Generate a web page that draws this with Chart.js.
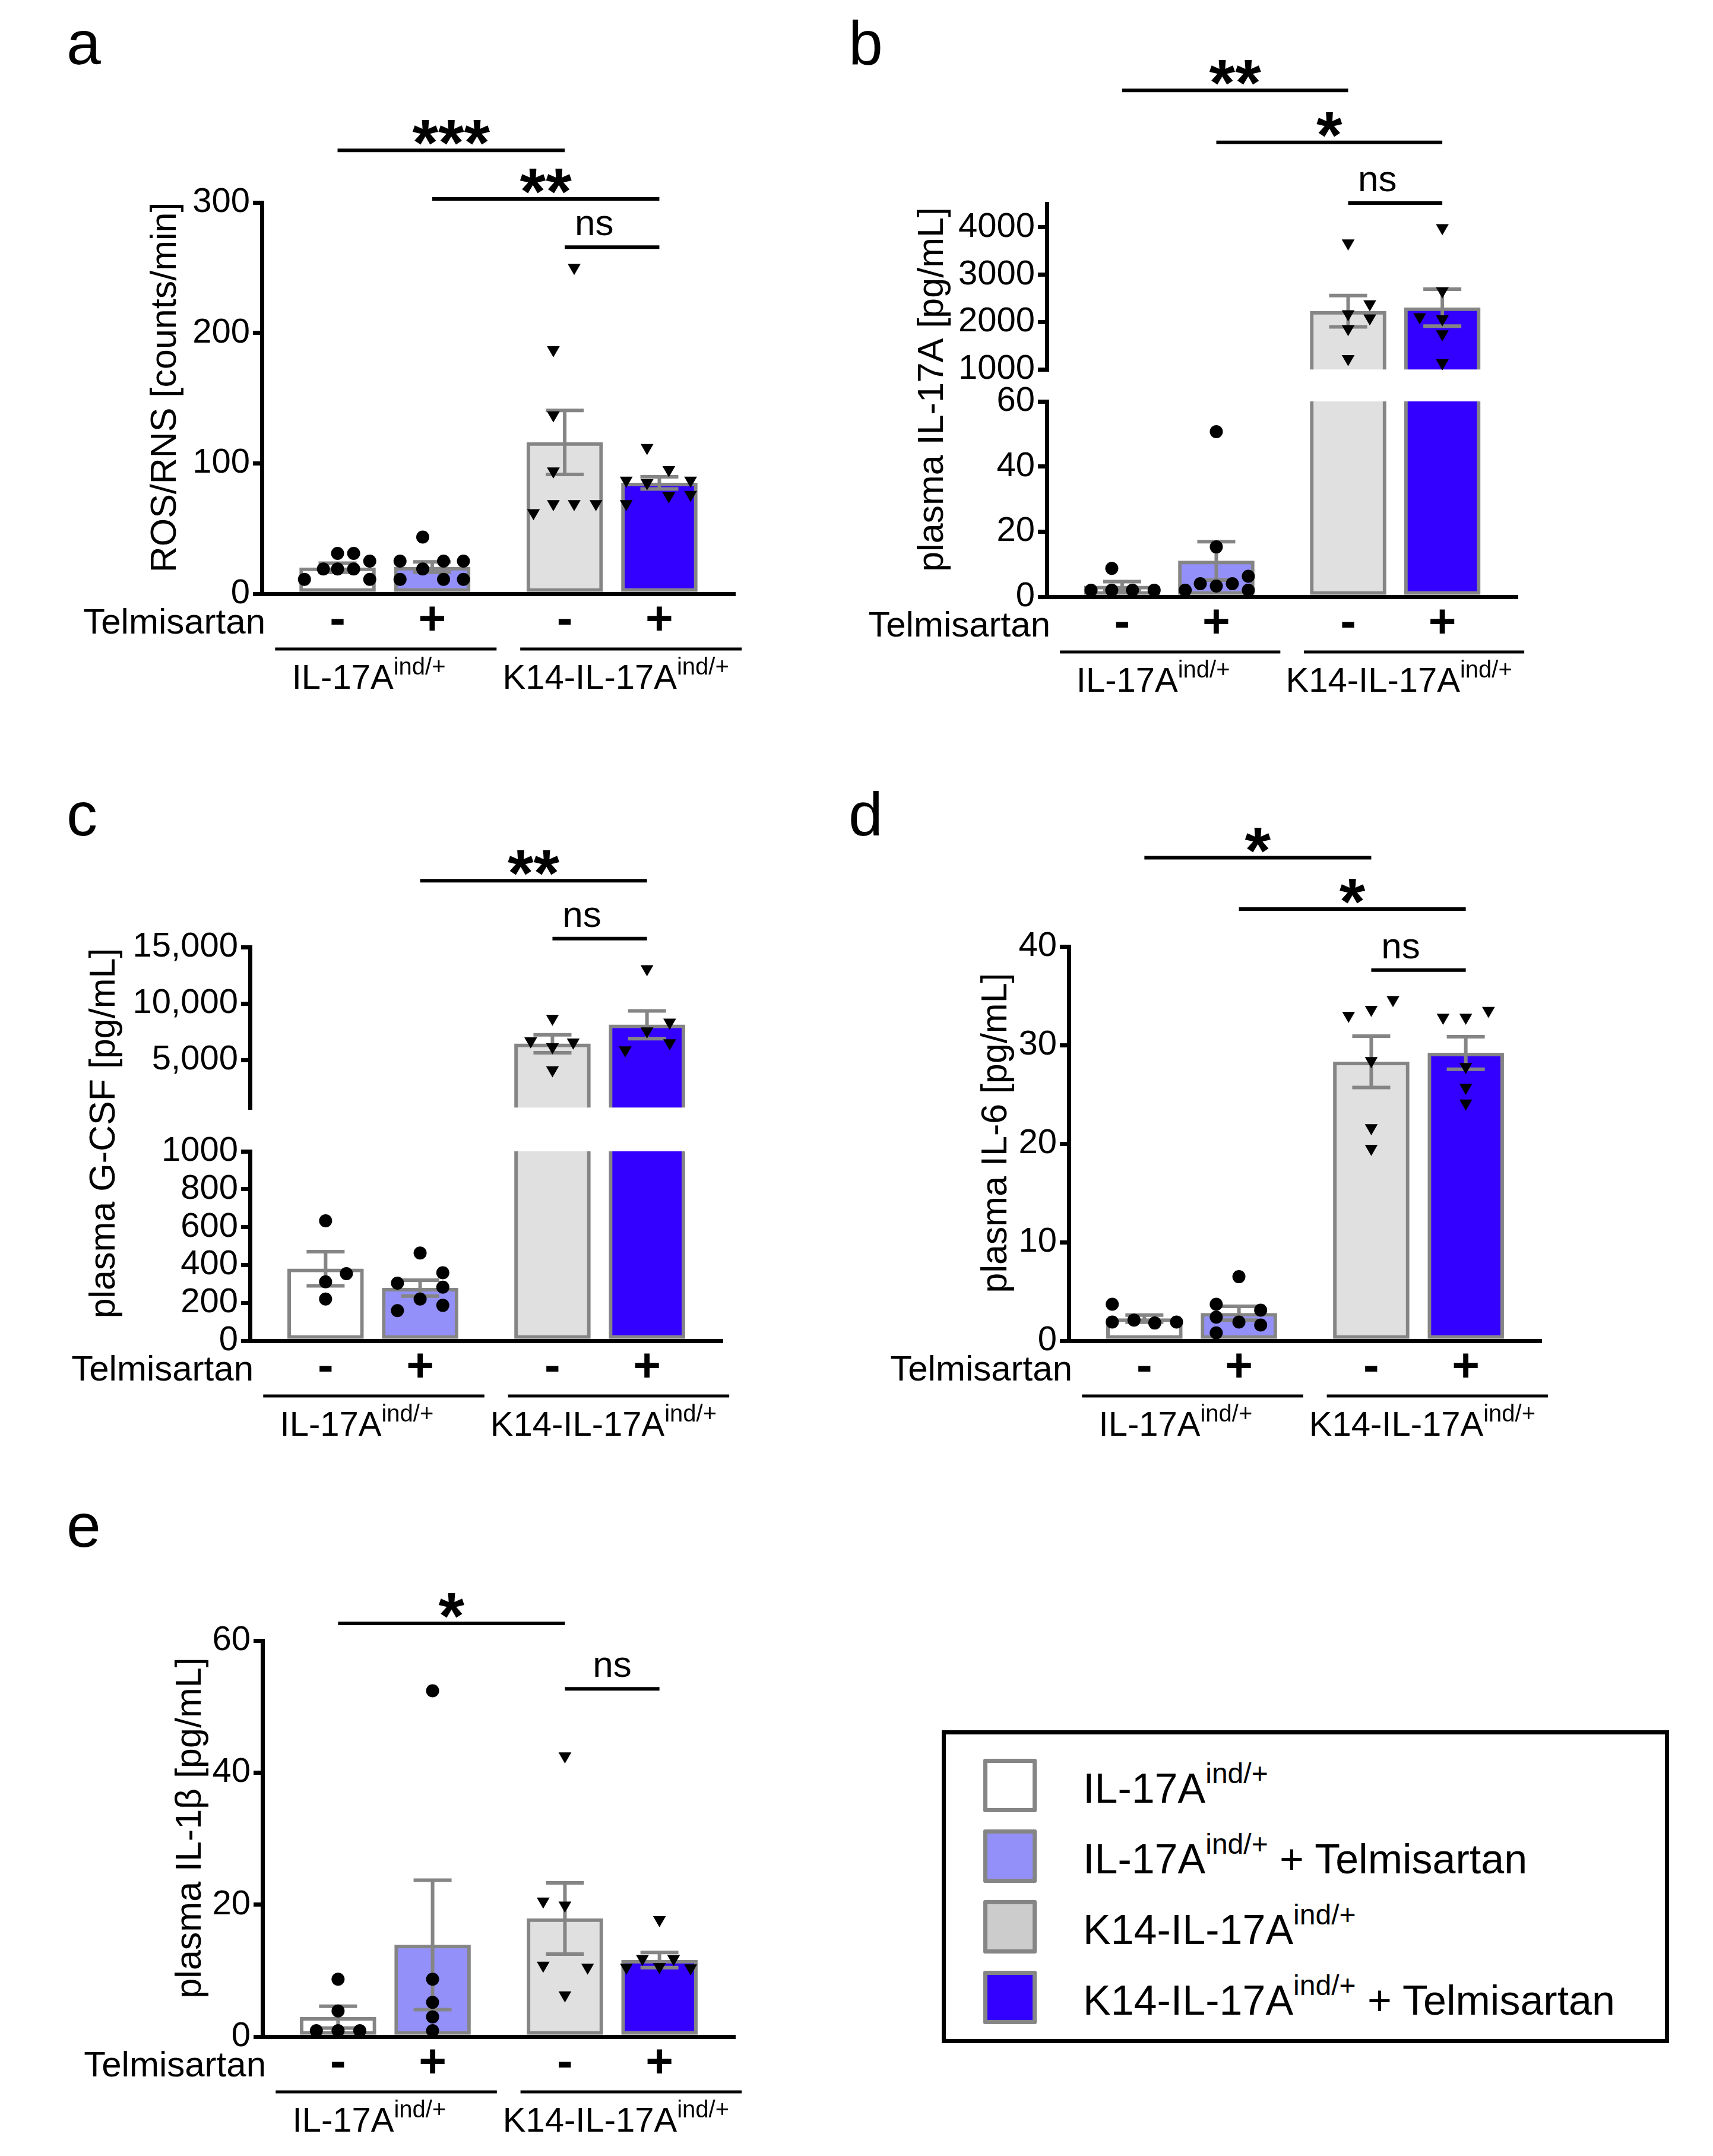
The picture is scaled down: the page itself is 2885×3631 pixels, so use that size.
<!DOCTYPE html>
<html>
<head>
<meta charset="utf-8">
<script src="https://cdn.jsdelivr.net/npm/chart.js@4.4.0/dist/chart.umd.min.js"></script>
<style>
  body { margin: 0; width: 2885px; height: 3631px; position: relative; overflow: hidden; background: #fff;
         font-family: "Liberation Sans", Arial, sans-serif; color: #000; }
  canvas { position: absolute; }
  .letter { position: absolute; font-size: 104px; line-height: 104px; }
  #legend { position: absolute; left: 1586px; top: 2914px; width: 1225px; height: 527px;
            border: 7px solid #000; box-sizing: border-box; }
  #legend .sw { position: absolute; left: 63px; width: 90px; height: 90px; box-sizing: border-box;
                border: 7px solid #858585; border-radius: 3px; }
  #legend .tx { position: absolute; left: 231px; font-size: 70px; line-height: 70px; white-space: nowrap; }
  #legend .tx span { font-size: 48px; position: relative; top: -33px; }
</style>
</head>
<body>
<div class="letter" style="left:112px;top:20px">a</div>
<div class="letter" style="left:1429px;top:20px">b</div>
<div class="letter" style="left:112px;top:1319px">c</div>
<div class="letter" style="left:1429px;top:1319px">d</div>
<div class="letter" style="left:112px;top:2517px">e</div>
<div id="legend"></div>

<script>
// ---- data ----
const signs = ['-', '+', '-', '+'];
const genotypes = ['IL-17A', 'K14-IL-17A'];
const genoSup = 'ind/+';
const legendMain = ['IL-17A', 'IL-17A', 'K14-IL-17A', 'K14-IL-17A'];
const legendTail = ['', ' + Telmisartan', '', ' + Telmisartan'];

// a: ROS/RNS
const rosTitle = 'ROS/RNS [counts/min]';
const rosTicks = [0, 100, 200, 300];
const rosMean = [20, 20.5, 116, 85];
const rosSem = [3.5, 4, 24.5, 4.7];
const rosPts = [
  [11, 19, 19, 31, 31, 19, 25, 11],
  [11, 25, 19, 43.5, 25, 11, 25, 11],
  [250, 187, 137, 94, 69, 62, 69, 69],
  [112, 87, 69, 85, 95, 75, 87, 76]
];
const rosJit = [
  [-0.35, -0.15, 0, 0, 0.17, 0.17, 0.34, 0.34],
  [-0.34, -0.34, -0.1, -0.1, 0.12, 0.12, 0.33, 0.33],
  [0.1, -0.12, -0.12, -0.12, -0.12, -0.33, 0.1, 0.33],
  [-0.13, -0.35, -0.35, -0.13, 0.1, 0.1, 0.33, 0.33]
];
const rosSig = [[0, 2, '***', 340, 0], [1, 3, '**', 302.7, 0], [2, 3, 'ns', 265.8, -30]];

// b: IL-17A (broken axis)
const il17Title = 'plasma IL-17A [pg/mL]';
const il17LowTicks = [0, 20, 40, 60];
const il17HighTicks = [1000, 2000, 3000, 4000];
const il17Mean = [3.3, 11, 2230, 2305];
const il17Sem = [1.35, 5.9, 330, 390];
const il17Pts = [
  [2, 8.7, 2, 2, 2],
  [50.7, 15.3, 2, 4, 3.3, 4, 6.3, 2],
  [3665, 2382, 2171, 2083, 1859, 1224],
  [3989, 2108, 2656, 2065, 1747, 1137]
];
const il17Jit = [
  [-0.33, -0.11, -0.11, 0.11, 0.34],
  [0, 0, -0.33, -0.17, 0, 0.17, 0.34, 0.34],
  [0, 0.23, 0, 0.23, 0, 0],
  [0, -0.24, 0, 0, 0, 0]
];
const il17Sig = [[0, 2, '**', 6891, 0], [1, 3, '*', 5795, 0], [2, 3, 'ns', 4512, -30]];

// c: G-CSF (broken axis)
const gcsfTitle = 'plasma G-CSF [pg/mL]';
const gcsfLowTicks = [0, 200, 400, 600, 800, 1000];
const gcsfHighTicks = [5000, 10000, 15000];
const gcsfHighLabels = ['5,000', '10,000', '15,000'];
const gcsfMean = [380, 278, 6440, 8120];
const gcsfSem = [90, 42, 790, 1230];
const gcsfPts = [
  [633, 354, 311, 220],
  [463, 359, 304, 283, 220, 159, 187],
  [8684, 6684, 6579, 6158, 4123],
  [13070, 8333, 7561, 6509, 5877]
];
const gcsfJit = [
  [0, 0.22, 0, 0],
  [0, 0.24, -0.24, 0.24, 0, -0.24, 0.24],
  [0, -0.23, 0.22, 0, 0],
  [0, 0.24, 0, 0.24, -0.23]
];
const gcsfSig = [[1, 3, '**', 20879, 0], [2, 3, 'ns', 15747, -30]];

// d: IL-6
const il6Title = 'plasma IL-6 [pg/mL]';
const il6Ticks = [0, 10, 20, 30, 40];
const il6Mean = [2.25, 2.8, 28.3, 29.2];
const il6Sem = [0.36, 0.7, 2.6, 1.65];
const il6Pts = [
  [3.7, 1.9, 2.1, 1.8, 1.9],
  [6.5, 3.7, 3.1, 2.4, 1.9, 1.6, 0.8],
  [33, 33.6, 34.6, 28.4, 21.6, 19.5],
  [32.8, 32.8, 33.5, 27.8, 25.7, 24.1]
];
const il6Jit = [
  [-0.34, -0.34, -0.11, 0.11, 0.34],
  [0, -0.24, 0.23, -0.24, 0, 0.23, -0.24],
  [-0.24, 0, 0.23, 0, 0, 0],
  [-0.24, 0, 0.24, 0, 0, 0]
];
const il6Sig = [[0, 2, '*', 49.0, 0], [1, 3, '*', 43.8, 0], [2, 3, 'ns', 37.6, -30]];

// e: IL-1beta
const il1bTitle = 'plasma IL-1\u03B2 [pg/mL]';
const il1bTicks = [0, 20, 40, 60];
const il1bMean = [2.95, 13.9, 17.9, 11.6];
const il1bSem = [1.65, 9.8, 5.4, 1.15];
const il1bPts = [
  [8.7, 3.9, 0.9, 0.9, 0.9],
  [52.4, 8.7, 5.2, 3.0, 0.9],
  [42.5, 20.5, 19.9, 10.8, 10.5, 6.3],
  [17.7, 11.8, 11.8, 10.5, 10.6, 10.4]
];
const il1bJit = [
  [0, 0, -0.23, 0, 0.23],
  [0, 0, 0, 0, 0],
  [0, -0.23, 0, -0.23, 0.24, 0],
  [0, -0.18, 0.15, -0.35, 0, 0.33]
];
const il1bSig = [[0, 2, '*', 62.6, 0], [2, 3, 'ns', 52.7, 0]];

// ---- layout / style ----
const XPOS = [0, 1, 2.4, 3.4];
const X_MIN = -0.8, X_MAX = 4.2;
const SPANS = [[-0.66, 1.68], [1.93, 4.27]];
const LABEL_X = [0.33, 2.94];
const FILLS = ['#FFFFFF', '#9490FA', '#E0E0E0', '#3300FF'];
const LEGEND_FILLS = ['#FFFFFF', '#9490FA', '#CCCCCC', '#3300FF'];
const EDGE = '#858585';
const FONT = '"Liberation Sans", Arial, sans-serif';

Chart.defaults.font.family = FONT;

function supLabel(ctx, main, sup, cx, base) {
  ctx.font = '58px ' + FONT;
  const wm = ctx.measureText(main).width;
  ctx.font = '40px ' + FONT;
  const ws = ctx.measureText(sup).width;
  const start = cx - (wm + ws) / 2;
  ctx.textAlign = 'left';
  ctx.textBaseline = 'alphabetic';
  ctx.font = '58px ' + FONT;
  ctx.fillText(main, start, base);
  ctx.font = '40px ' + FONT;
  ctx.fillText(sup, start + wm, base - 24);
}

function deco(o) {
  return {
    id: 'deco',
    afterDatasetDraw(chart, args) {
      if (args.index !== 0) return;
      const {ctx, chartArea: ca, scales: {x, y}} = chart;
      ctx.save();
      ctx.beginPath();
      ctx.rect(ca.left, ca.top - 1, ca.right - ca.left, ca.bottom - ca.top + 2);
      ctx.clip();
      ctx.strokeStyle = EDGE;
      ctx.lineWidth = 6;
      o.mean.forEach((m, i) => {
        const px = x.getPixelForValue(XPOS[i]);
        const hi = y.getPixelForValue(m + o.sem[i]);
        const lo = y.getPixelForValue(m - o.sem[i]);
        ctx.beginPath();
        ctx.moveTo(px, hi); ctx.lineTo(px, lo);
        ctx.moveTo(px - 32, hi); ctx.lineTo(px + 32, hi);
        ctx.moveTo(px - 32, lo); ctx.lineTo(px + 32, lo);
        ctx.stroke();
      });
      ctx.restore();
    },
    afterDraw(chart) {
      const {ctx, chartArea: ca, scales: {x, y}} = chart;
      ctx.save();
      ctx.fillStyle = '#000';
      ctx.strokeStyle = '#000';
      (o.sig || []).forEach(([a, b, txt, v, dx]) => {
        const x1 = x.getPixelForValue(XPOS[a]);
        const x2 = x.getPixelForValue(XPOS[b]);
        const py = y.getPixelForValue(v);
        ctx.lineWidth = 6;
        ctx.beginPath(); ctx.moveTo(x1, py); ctx.lineTo(x2, py); ctx.stroke();
        ctx.textAlign = 'center';
        ctx.textBaseline = 'alphabetic';
        if (txt === 'ns') {
          ctx.font = '62px ' + FONT;
          ctx.fillText(txt, (x1 + x2) / 2 + dx, py - 20);
        } else {
          ctx.font = 'bold 112px ' + FONT;
          ctx.fillText(txt, (x1 + x2) / 2 + dx, py + 26);
        }
      });
      if (o.title) {
        const top = o.axisTop !== undefined ? o.axisTop : ca.top;
        ctx.save();
        ctx.translate(ca.left - o.titleDx, (top + ca.bottom) / 2 - 18);
        ctx.rotate(-Math.PI / 2);
        ctx.font = '61px ' + FONT;
        ctx.textAlign = 'center';
        ctx.textBaseline = 'middle';
        ctx.fillText(o.title, 0, 0);
        ctx.restore();
      }
      if (o.bottom) {
        const yb = ca.bottom;
        ctx.font = '60px ' + FONT;
        ctx.textAlign = 'right';
        ctx.textBaseline = 'middle';
        ctx.fillText('Telmisartan', ca.left + 6, yb + 50);
        ctx.font = 'bold 80px ' + FONT;
        ctx.textAlign = 'center';
        signs.forEach((s, i) => ctx.fillText(s, x.getPixelForValue(XPOS[i]), yb + 46));
        ctx.lineWidth = 5;
        SPANS.forEach(([u1, u2]) => {
          ctx.beginPath();
          ctx.moveTo(x.getPixelForValue(u1), yb + 93);
          ctx.lineTo(x.getPixelForValue(u2), yb + 93);
          ctx.stroke();
        });
        genotypes.forEach((g, k) => supLabel(ctx, g, genoSup, x.getPixelForValue(LABEL_X[k]), yb + 160));
      }
      ctx.restore();
    }
  };
}

function makeChart(o) {
  const [l, t, r, b] = o.area;
  const [x0, y0, x1, y1] = o.canvas;
  const cv = document.createElement('canvas');
  cv.width = x1 - x0;
  cv.height = y1 - y0;
  cv.style.left = x0 + 'px';
  cv.style.top = y0 + 'px';
  document.body.appendChild(cv);

  const datasets = [{
    type: 'bar',
    data: o.mean.map((m, i) => ({x: XPOS[i], y: m})),
    backgroundColor: FILLS,
    borderColor: EDGE,
    borderWidth: 6,
    borderSkipped: false,
    barThickness: 128,
    order: 2
  }];
  o.pts.forEach((vals, g) => {
    const tri = g > 1;
    // a segment of a broken axis only shows the points that fall in its range
    const pts = vals.map((v, k) => ({x: XPOS[g] + o.jit[g][k], y: v}))
                    .filter(p => p.y >= o.min && p.y <= o.max);
    datasets.push({
      type: 'scatter',
      data: pts,
      pointStyle: tri ? 'triangle' : 'circle',
      pointRotation: tri ? 180 : 0,
      pointRadius: tri ? 12.5 : 11,
      pointHoverRadius: tri ? 12.5 : 11,
      pointBackgroundColor: '#000',
      pointBorderWidth: 0,
      clip: 14,
      order: 1
    });
  });

  const labels = o.tickLabels || o.ticks.map(String);
  const leftW = l - x0;
  new Chart(cv, {
    type: 'bar',
    data: {datasets},
    options: {
      responsive: false,
      animation: false,
      devicePixelRatio: 1,
      layout: {padding: {left: 0, top: t - y0, right: x1 - r, bottom: y1 - b}},
      plugins: {legend: {display: false}, tooltip: {enabled: false}},
      scales: {
        x: {
          type: 'linear', min: X_MIN, max: X_MAX, offset: false,
          display: o.bottom ? true : false,
          afterFit: s => { s.height = 0; },
          ticks: {display: false},
          grid: {display: false},
          border: {display: true, width: 7, color: '#000'}
        },
        y: {
          type: 'linear', min: o.min, max: o.max,
          afterFit: s => { s.width = leftW; },
          afterBuildTicks: s => { s.ticks = o.ticks.map(v => ({value: v})); },
          ticks: {
            autoSkip: false, color: '#000', padding: 5,
            font: {family: FONT, size: 58},
            callback: (v, i) => labels[i]
          },
          grid: {display: true, drawOnChartArea: false, drawTicks: true, tickLength: 15,
                 tickWidth: 7, tickColor: '#000', color: '#000', lineWidth: 7},
          border: {display: true, width: 7, color: '#000'}
        }
      }
    },
    plugins: [deco(o)]
  });
}

// a
makeChart({area: [441, 341, 1238, 1000], canvas: [100, 170, 1270, 1200], min: 0, max: 300,
  ticks: rosTicks, mean: rosMean, sem: rosSem, pts: rosPts, jit: rosJit, sig: rosSig,
  title: rosTitle, titleDx: 162, bottom: true});

// b lower + upper
makeChart({area: [1763, 676, 2556, 1005], canvas: [1420, 300, 2600, 1210], min: 0, max: 60,
  ticks: il17LowTicks, mean: il17Mean, sem: il17Sem, pts: il17Pts, jit: il17Jit,
  title: il17Title, titleDx: 192, axisTop: 343 - 300, bottom: true});
makeChart({area: [1763, 343, 2556, 624], canvas: [1420, 60, 2600, 662], min: 1000, max: 4500,
  ticks: il17HighTicks, mean: il17Mean, sem: il17Sem, pts: il17Pts, jit: il17Jit, sig: il17Sig});

// c lower + upper
makeChart({area: [421, 1939, 1217, 2258], canvas: [90, 1560, 1260, 2460], min: 0, max: 1000,
  ticks: gcsfLowTicks, mean: gcsfMean, sem: gcsfSem, pts: gcsfPts, jit: gcsfJit,
  title: gcsfTitle, titleDx: 245, axisTop: 1595 - 1560, bottom: true});
makeChart({area: [421, 1595, 1217, 1880], canvas: [90, 1400, 1260, 1905], min: 800, max: 15000,
  ticks: gcsfHighTicks, tickLabels: gcsfHighLabels, mean: gcsfMean, sem: gcsfSem,
  pts: gcsfPts, jit: gcsfJit, sig: gcsfSig});

// d
makeChart({area: [1800, 1594, 2596, 2258], canvas: [1450, 1360, 2640, 2460], min: 0, max: 40,
  ticks: il6Ticks, mean: il6Mean, sem: il6Sem, pts: il6Pts, jit: il6Jit, sig: il6Sig,
  title: il6Title, titleDx: 122, bottom: true});

// e
makeChart({area: [442, 2763, 1238, 3430], canvas: [100, 2640, 1270, 3631], min: 0, max: 60,
  ticks: il1bTicks, mean: il1bMean, sem: il1bSem, pts: il1bPts, jit: il1bJit, sig: il1bSig,
  title: il1bTitle, titleDx: 121, bottom: true});

// legend
const legend = document.getElementById('legend');
legendMain.forEach((m, i) => {
  const top = 41 + i * 119;
  const sw = document.createElement('div');
  sw.className = 'sw';
  sw.style.top = top + 'px';
  sw.style.background = LEGEND_FILLS[i];
  legend.appendChild(sw);
  const tx = document.createElement('div');
  tx.className = 'tx';
  tx.style.top = (top + 15) + 'px';
  tx.innerHTML = m + '<span>' + genoSup + '</span>' + legendTail[i];
  legend.appendChild(tx);
});
</script>
</body>
</html>
